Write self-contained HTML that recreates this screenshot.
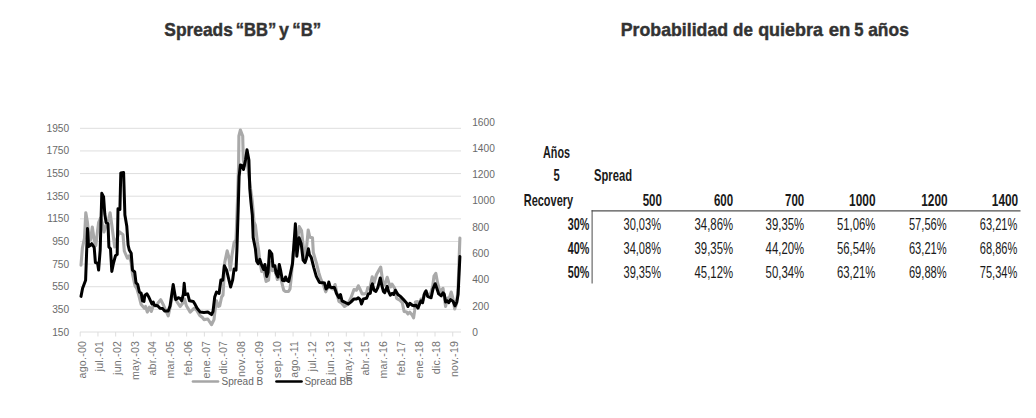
<!DOCTYPE html>
<html><head><meta charset="utf-8"><title>Spreads</title>
<style>html,body{margin:0;padding:0;background:#fff;}body{width:1036px;height:418px;position:relative;overflow:hidden;font-family:"Liberation Sans",sans-serif;}</style>
</head><body>
<svg width="1036" height="418" viewBox="0 0 1036 418" style="position:absolute;left:0;top:0;font-family:'Liberation Sans',sans-serif">
<text x="164.32" y="35.8" font-size="19" font-weight="bold" fill="#333" stroke="#333" stroke-width="0.45" textLength="68.55" lengthAdjust="spacingAndGlyphs">Spreads</text>
<text x="235.78" y="35.8" font-size="19" font-weight="bold" fill="#333" stroke="#333" stroke-width="0.45" textLength="40.45" lengthAdjust="spacingAndGlyphs">“BB”</text>
<text x="279.12" y="35.8" font-size="19" font-weight="bold" fill="#333" stroke="#333" stroke-width="0.45" textLength="9.90" lengthAdjust="spacingAndGlyphs">y</text>
<text x="292.28" y="35.8" font-size="19" font-weight="bold" fill="#333" stroke="#333" stroke-width="0.45" textLength="29.01" lengthAdjust="spacingAndGlyphs">“B”</text>
<text x="620.78" y="35.8" font-size="19" font-weight="bold" fill="#333" stroke="#333" stroke-width="0.45" textLength="107.38" lengthAdjust="spacingAndGlyphs">Probabilidad</text>
<text x="733.12" y="35.8" font-size="19" font-weight="bold" fill="#333" stroke="#333" stroke-width="0.45" textLength="19.82" lengthAdjust="spacingAndGlyphs">de</text>
<text x="758.16" y="35.8" font-size="19" font-weight="bold" fill="#333" stroke="#333" stroke-width="0.45" textLength="64.79" lengthAdjust="spacingAndGlyphs">quiebra</text>
<text x="828.66" y="35.8" font-size="19" font-weight="bold" fill="#333" stroke="#333" stroke-width="0.45" textLength="21.68" lengthAdjust="spacingAndGlyphs">en</text>
<text x="854.24" y="35.8" font-size="19" font-weight="bold" fill="#333" stroke="#333" stroke-width="0.45" textLength="9.24" lengthAdjust="spacingAndGlyphs">5</text>
<text x="868.20" y="35.8" font-size="19" font-weight="bold" fill="#333" stroke="#333" stroke-width="0.45" textLength="40.64" lengthAdjust="spacingAndGlyphs">años</text>
<line x1="80.0" x2="461.0" y1="128.30" y2="128.30" stroke="#dedede" stroke-width="1"/>
<line x1="80.0" x2="461.0" y1="150.93" y2="150.93" stroke="#dedede" stroke-width="1"/>
<line x1="80.0" x2="461.0" y1="173.57" y2="173.57" stroke="#dedede" stroke-width="1"/>
<line x1="80.0" x2="461.0" y1="196.20" y2="196.20" stroke="#dedede" stroke-width="1"/>
<line x1="80.0" x2="461.0" y1="218.83" y2="218.83" stroke="#dedede" stroke-width="1"/>
<line x1="80.0" x2="461.0" y1="241.47" y2="241.47" stroke="#dedede" stroke-width="1"/>
<line x1="80.0" x2="461.0" y1="264.10" y2="264.10" stroke="#dedede" stroke-width="1"/>
<line x1="80.0" x2="461.0" y1="286.73" y2="286.73" stroke="#dedede" stroke-width="1"/>
<line x1="80.0" x2="461.0" y1="309.37" y2="309.37" stroke="#dedede" stroke-width="1"/>
<line x1="80.0" x2="461.0" y1="332.00" y2="332.00" stroke="#dedede" stroke-width="1"/>
<line x1="80.20" x2="80.20" y1="332.00" y2="336.50" stroke="#dedede" stroke-width="1"/>
<line x1="97.94" x2="97.94" y1="332.00" y2="336.50" stroke="#dedede" stroke-width="1"/>
<line x1="115.68" x2="115.68" y1="332.00" y2="336.50" stroke="#dedede" stroke-width="1"/>
<line x1="133.42" x2="133.42" y1="332.00" y2="336.50" stroke="#dedede" stroke-width="1"/>
<line x1="151.16" x2="151.16" y1="332.00" y2="336.50" stroke="#dedede" stroke-width="1"/>
<line x1="168.90" x2="168.90" y1="332.00" y2="336.50" stroke="#dedede" stroke-width="1"/>
<line x1="186.64" x2="186.64" y1="332.00" y2="336.50" stroke="#dedede" stroke-width="1"/>
<line x1="204.38" x2="204.38" y1="332.00" y2="336.50" stroke="#dedede" stroke-width="1"/>
<line x1="222.12" x2="222.12" y1="332.00" y2="336.50" stroke="#dedede" stroke-width="1"/>
<line x1="239.86" x2="239.86" y1="332.00" y2="336.50" stroke="#dedede" stroke-width="1"/>
<line x1="257.60" x2="257.60" y1="332.00" y2="336.50" stroke="#dedede" stroke-width="1"/>
<line x1="275.34" x2="275.34" y1="332.00" y2="336.50" stroke="#dedede" stroke-width="1"/>
<line x1="293.08" x2="293.08" y1="332.00" y2="336.50" stroke="#dedede" stroke-width="1"/>
<line x1="310.82" x2="310.82" y1="332.00" y2="336.50" stroke="#dedede" stroke-width="1"/>
<line x1="328.56" x2="328.56" y1="332.00" y2="336.50" stroke="#dedede" stroke-width="1"/>
<line x1="346.30" x2="346.30" y1="332.00" y2="336.50" stroke="#dedede" stroke-width="1"/>
<line x1="364.04" x2="364.04" y1="332.00" y2="336.50" stroke="#dedede" stroke-width="1"/>
<line x1="381.78" x2="381.78" y1="332.00" y2="336.50" stroke="#dedede" stroke-width="1"/>
<line x1="399.52" x2="399.52" y1="332.00" y2="336.50" stroke="#dedede" stroke-width="1"/>
<line x1="417.26" x2="417.26" y1="332.00" y2="336.50" stroke="#dedede" stroke-width="1"/>
<line x1="435.00" x2="435.00" y1="332.00" y2="336.50" stroke="#dedede" stroke-width="1"/>
<line x1="452.74" x2="452.74" y1="332.00" y2="336.50" stroke="#dedede" stroke-width="1"/>
<text x="69.2" y="131.50" text-anchor="end" font-size="10.2" fill="#6a6a6a">1950</text>
<text x="69.2" y="154.20" text-anchor="end" font-size="10.2" fill="#6a6a6a">1750</text>
<text x="69.2" y="176.90" text-anchor="end" font-size="10.2" fill="#6a6a6a">1550</text>
<text x="69.2" y="199.60" text-anchor="end" font-size="10.2" fill="#6a6a6a">1350</text>
<text x="69.2" y="222.30" text-anchor="end" font-size="10.2" fill="#6a6a6a">1150</text>
<text x="69.2" y="245.00" text-anchor="end" font-size="10.2" fill="#6a6a6a">950</text>
<text x="69.2" y="267.70" text-anchor="end" font-size="10.2" fill="#6a6a6a">750</text>
<text x="69.2" y="290.40" text-anchor="end" font-size="10.2" fill="#6a6a6a">550</text>
<text x="69.2" y="313.10" text-anchor="end" font-size="10.2" fill="#6a6a6a">350</text>
<text x="69.2" y="335.80" text-anchor="end" font-size="10.2" fill="#6a6a6a">150</text>
<text x="472.2" y="125.50" font-size="10.2" fill="#6a6a6a">1600</text>
<text x="472.2" y="151.80" font-size="10.2" fill="#6a6a6a">1400</text>
<text x="472.2" y="178.10" font-size="10.2" fill="#6a6a6a">1200</text>
<text x="472.2" y="204.40" font-size="10.2" fill="#6a6a6a">1000</text>
<text x="472.2" y="230.70" font-size="10.2" fill="#6a6a6a">800</text>
<text x="472.2" y="257.00" font-size="10.2" fill="#6a6a6a">600</text>
<text x="472.2" y="283.30" font-size="10.2" fill="#6a6a6a">400</text>
<text x="472.2" y="309.60" font-size="10.2" fill="#6a6a6a">200</text>
<text x="472.2" y="335.90" font-size="10.2" fill="#6a6a6a">0</text>
<text transform="translate(85.50,340.8) rotate(-90)" text-anchor="end" font-size="10.6" letter-spacing="0.25" fill="#737373">ago.-00</text>
<text transform="translate(103.24,340.8) rotate(-90)" text-anchor="end" font-size="10.6" letter-spacing="0.25" fill="#737373">jul.-01</text>
<text transform="translate(120.98,340.8) rotate(-90)" text-anchor="end" font-size="10.6" letter-spacing="0.25" fill="#737373">jun.-02</text>
<text transform="translate(138.72,340.8) rotate(-90)" text-anchor="end" font-size="10.6" letter-spacing="0.25" fill="#737373">may.-03</text>
<text transform="translate(156.46,340.8) rotate(-90)" text-anchor="end" font-size="10.6" letter-spacing="0.25" fill="#737373">abr.-04</text>
<text transform="translate(174.20,340.8) rotate(-90)" text-anchor="end" font-size="10.6" letter-spacing="0.25" fill="#737373">mar.-05</text>
<text transform="translate(191.94,340.8) rotate(-90)" text-anchor="end" font-size="10.6" letter-spacing="0.25" fill="#737373">feb.-06</text>
<text transform="translate(209.68,340.8) rotate(-90)" text-anchor="end" font-size="10.6" letter-spacing="0.25" fill="#737373">ene.-07</text>
<text transform="translate(227.42,340.8) rotate(-90)" text-anchor="end" font-size="10.6" letter-spacing="0.25" fill="#737373">dic.-07</text>
<text transform="translate(245.16,340.8) rotate(-90)" text-anchor="end" font-size="10.6" letter-spacing="0.25" fill="#737373">nov.-08</text>
<text transform="translate(262.90,340.8) rotate(-90)" text-anchor="end" font-size="10.6" letter-spacing="0.25" fill="#737373">oct.-09</text>
<text transform="translate(280.64,340.8) rotate(-90)" text-anchor="end" font-size="10.6" letter-spacing="0.25" fill="#737373">sep.-10</text>
<text transform="translate(298.38,340.8) rotate(-90)" text-anchor="end" font-size="10.6" letter-spacing="0.25" fill="#737373">ago.-11</text>
<text transform="translate(316.12,340.8) rotate(-90)" text-anchor="end" font-size="10.6" letter-spacing="0.25" fill="#737373">jul.-12</text>
<text transform="translate(333.86,340.8) rotate(-90)" text-anchor="end" font-size="10.6" letter-spacing="0.25" fill="#737373">jun.-13</text>
<text transform="translate(351.60,340.8) rotate(-90)" text-anchor="end" font-size="10.6" letter-spacing="0.25" fill="#737373">may.-14</text>
<text transform="translate(369.34,340.8) rotate(-90)" text-anchor="end" font-size="10.6" letter-spacing="0.25" fill="#737373">abr.-15</text>
<text transform="translate(387.08,340.8) rotate(-90)" text-anchor="end" font-size="10.6" letter-spacing="0.25" fill="#737373">mar.-16</text>
<text transform="translate(404.82,340.8) rotate(-90)" text-anchor="end" font-size="10.6" letter-spacing="0.25" fill="#737373">feb.-17</text>
<text transform="translate(422.56,340.8) rotate(-90)" text-anchor="end" font-size="10.6" letter-spacing="0.25" fill="#737373">ene.-18</text>
<text transform="translate(440.30,340.8) rotate(-90)" text-anchor="end" font-size="10.6" letter-spacing="0.25" fill="#737373">dic.-18</text>
<text transform="translate(458.04,340.8) rotate(-90)" text-anchor="end" font-size="10.6" letter-spacing="0.25" fill="#737373">nov.-19</text>
<polyline points="81.0,265.1 82.4,248.0 84.5,238.0 85.8,212.7 87.4,222.0 89.0,238.0 90.5,240.0 92.3,227.0 94.2,240.0 95.8,245.5 97.2,234.0 98.6,222.6 100.5,218.0 102.0,222.0 104.0,232.0 106.1,225.0 108.0,222.0 110.1,212.7 111.8,225.0 114.7,247.0 116.5,240.0 119.3,231.8 123.0,234.8 124.3,251.0 127.4,258.2 129.0,256.0 131.0,262.0 132.5,274.0 135.0,285.8 137.0,289.0 139.0,296.0 141.2,304.6 144.4,308.3 145.6,306.5 147.3,312.1 149.4,307.1 151.3,311.5 153.5,305.0 156.0,306.0 158.0,303.0 160.7,299.6 163.8,305.8 166.0,311.0 168.2,315.9 170.0,308.0 172.0,298.0 174.0,293.0 176.4,300.8 180.1,306.5 182.6,303.3 184.5,299.0 186.4,305.8 190.2,312.1 194.0,308.3 196.5,310.0 199.6,315.2 202.7,317.8 204.0,319.6 207.8,319.0 211.5,324.7 214.0,319.6 215.3,308.0 216.5,300.8 218.4,306.5 219.7,305.8 221.6,297.0 223.0,295.0 223.6,285.0 224.7,262.6 227.2,250.8 228.8,257.0 230.3,270.0 232.0,255.0 234.1,242.5 236.0,240.0 237.5,200.0 238.6,165.0 238.9,136.0 240.4,130.0 242.7,136.0 243.3,160.0 244.5,166.0 247.0,160.0 250.0,185.0 252.3,201.4 254.0,222.0 255.4,225.1 257.3,241.4 258.6,250.2 260.0,262.0 261.7,271.4 263.5,269.0 266.1,281.4 268.6,280.2 270.0,262.0 272.4,270.7 274.5,268.0 277.4,279.5 279.5,272.0 281.8,282.7 283.7,290.2 285.5,291.5 288.5,291.5 290.0,288.9 291.5,275.0 293.0,255.0 295.0,238.0 297.0,245.0 299.2,226.6 301.5,230.5 303.7,250.2 305.0,258.0 306.3,250.2 306.9,244.0 308.2,230.0 309.8,237.2 312.5,237.8 313.3,252.5 316.3,262.6 318.8,272.6 320.7,278.9 323.0,284.0 325.7,291.8 327.5,288.0 329.0,284.0 331.0,288.0 333.0,289.0 335.1,284.5 337.0,294.0 338.9,301.4 341.5,303.0 344.5,306.5 347.5,304.5 350.8,298.3 354.0,289.5 356.5,290.2 358.3,285.8 360.2,289.5 362.1,293.9 364.6,293.9 366.5,293.0 367.8,287.6 369.8,288.5 372.2,276.7 374.0,283.0 376.5,274.5 380.7,267.0 382.8,282.0 384.7,285.0 387.2,277.3 389.0,283.4 390.5,287.0 392.0,284.2 394.7,288.3 396.6,298.3 399.8,300.2 402.3,302.7 404.1,311.5 406.7,312.1 407.9,314.0 409.8,312.1 412.3,315.2 413.6,317.8 414.6,310.9 415.4,302.1 417.5,301.5 419.0,305.0 421.0,299.0 423.0,300.0 425.0,292.0 427.5,294.0 430.0,295.0 432.6,287.0 434.0,276.0 435.8,273.3 437.6,283.0 440.0,292.0 443.0,288.3 445.6,306.5 447.4,298.3 449.5,297.5 451.2,292.0 452.8,298.0 454.7,309.0 456.5,304.0 458.0,290.0 459.9,238.0" fill="none" stroke="#a9a9a9" stroke-width="3.1" stroke-linejoin="round" stroke-linecap="round"/>
<polyline points="81.0,296.4 82.6,288.3 84.2,284.0 85.6,280.2 87.5,228.5 88.6,246.5 90.2,245.5 91.7,243.6 94.2,247.5 95.4,262.6 97.6,263.2 98.6,270.1 100.2,250.0 101.8,193.3 103.6,197.0 104.8,214.0 106.1,222.6 108.0,223.8 108.9,247.0 110.5,248.8 111.8,271.4 113.5,263.0 115.5,255.7 117.2,254.4 118.0,208.8 119.9,209.5 120.8,173.0 123.6,172.6 124.9,215.0 126.8,226.3 128.1,245.0 129.3,250.0 131.2,253.2 132.5,270.1 134.7,272.0 136.0,282.7 137.7,284.5 139.4,292.0 141.2,293.3 142.5,300.8 144.0,301.4 144.8,295.2 146.9,293.9 148.8,297.0 151.9,304.0 153.2,302.0 154.4,305.2 157.6,305.8 160.0,308.3 162.6,308.6 164.5,310.9 168.2,311.1 170.1,305.8 173.2,284.5 175.7,299.6 178.3,297.7 180.1,298.3 181.6,300.8 183.3,294.5 184.2,283.3 185.2,294.5 187.7,293.9 189.5,300.8 193.3,301.4 195.2,304.6 197.1,308.3 200.2,312.1 204.0,312.4 207.8,312.1 211.5,314.6 213.0,311.5 214.7,297.1 216.5,292.0 219.1,293.5 220.9,280.0 222.8,280.2 224.3,265.7 226.6,270.1 230.6,287.0 232.6,280.2 234.1,268.9 236.0,270.1 236.9,250.2 238.1,212.0 239.1,176.3 240.4,165.0 242.3,165.6 243.5,169.5 245.5,160.0 247.0,149.7 248.9,160.0 249.8,188.9 251.0,202.7 252.3,215.0 253.2,237.6 255.4,248.8 256.7,261.3 258.2,263.8 259.8,259.4 261.7,265.1 263.6,269.5 264.9,264.5 266.7,276.4 268.0,272.6 269.5,250.7 271.8,253.8 273.0,266.3 274.9,265.7 276.1,273.2 278.0,277.0 279.3,264.5 280.8,271.4 282.4,280.2 284.3,280.8 285.6,277.0 286.8,280.2 288.7,281.4 290.6,272.6 292.5,263.8 293.7,247.5 295.4,223.7 296.8,256.3 299.1,237.7 301.2,243.8 303.1,260.1 305.0,262.6 306.3,258.8 308.4,248.8 309.4,254.4 311.3,257.6 313.8,267.6 316.3,276.4 319.4,282.4 322.6,282.7 324.5,283.0 326.0,289.0 327.5,287.5 328.8,282.0 330.1,287.1 332.0,287.6 334.5,287.6 336.4,293.3 338.9,297.7 340.5,294.5 342.0,300.8 344.5,302.1 348.3,304.0 350.8,302.1 354.0,298.9 356.5,298.9 358.3,297.7 360.2,299.6 361.5,304.0 363.4,298.9 366.5,298.3 368.4,293.9 370.3,293.3 371.5,285.8 372.4,283.9 374.0,290.2 375.9,291.4 377.8,287.6 380.3,278.0 381.6,284.5 383.4,291.4 384.7,292.7 387.2,286.4 388.5,291.4 390.3,295.2 392.2,293.3 393.7,294.5 395.4,290.2 397.9,294.5 400.4,296.4 403.5,299.6 406.7,303.3 407.9,306.5 409.8,303.3 412.3,305.2 414.2,305.8 416.1,305.2 418.0,308.1 419.8,303.3 421.1,300.8 422.6,302.7 424.2,294.5 426.1,290.8 427.6,296.4 429.2,297.1 431.1,297.7 433.0,288.9 435.2,283.7 436.8,288.3 438.7,293.9 441.2,295.8 443.0,292.7 444.3,294.5 445.6,302.1 447.4,300.8 448.7,302.7 450.6,299.6 453.1,301.4 455.0,305.8 456.8,302.1 458.1,294.5 459.9,256.5" fill="none" stroke="#000" stroke-width="3.0" stroke-linejoin="round" stroke-linecap="round"/>
<line x1="193" x2="218" y1="381.5" y2="381.5" stroke="#a6a6a6" stroke-width="2.7" stroke-linecap="round"/>
<text x="221.5" y="385.2" font-size="10" fill="#666">Spread B</text>
<line x1="276.5" x2="301.5" y1="381.5" y2="381.5" stroke="#000" stroke-width="2.7" stroke-linecap="round"/>
<text x="304.4" y="385.2" font-size="10" fill="#666">Spread BB</text>
<text x="556.5" y="157.6" text-anchor="middle" font-size="16.6" font-weight="bold" fill="#1a1a1a" textLength="27" lengthAdjust="spacingAndGlyphs">Años</text>
<text x="556.7" y="181.2" text-anchor="middle" font-size="16.6" font-weight="bold" fill="#1a1a1a" textLength="6.2" lengthAdjust="spacingAndGlyphs">5</text>
<text x="594" y="181.2" text-anchor="start" font-size="16.6" font-weight="bold" fill="#1a1a1a" textLength="38" lengthAdjust="spacingAndGlyphs">Spread</text>
<text x="573.2" y="205.5" text-anchor="end" font-size="16.6" font-weight="bold" fill="#1a1a1a" textLength="49.5" lengthAdjust="spacingAndGlyphs">Recovery</text>
<text x="661.9" y="205.5" text-anchor="end" font-size="16.6" font-weight="bold" fill="#1a1a1a" textLength="19.2" lengthAdjust="spacingAndGlyphs">500</text>
<text x="733.1" y="205.5" text-anchor="end" font-size="16.6" font-weight="bold" fill="#1a1a1a" textLength="19.2" lengthAdjust="spacingAndGlyphs">600</text>
<text x="804.2" y="205.5" text-anchor="end" font-size="16.6" font-weight="bold" fill="#1a1a1a" textLength="19.2" lengthAdjust="spacingAndGlyphs">700</text>
<text x="875.5" y="205.5" text-anchor="end" font-size="16.6" font-weight="bold" fill="#1a1a1a" textLength="26.4" lengthAdjust="spacingAndGlyphs">1000</text>
<text x="947.6" y="205.5" text-anchor="end" font-size="16.6" font-weight="bold" fill="#1a1a1a" textLength="26.4" lengthAdjust="spacingAndGlyphs">1200</text>
<text x="1018.2" y="205.5" text-anchor="end" font-size="16.6" font-weight="bold" fill="#1a1a1a" textLength="26.4" lengthAdjust="spacingAndGlyphs">1400</text>
<text x="589.3" y="230.3" text-anchor="end" font-size="16.6" font-weight="bold" fill="#1a1a1a" textLength="21.5" lengthAdjust="spacingAndGlyphs">30%</text>
<text x="661.0" y="230.3" text-anchor="end" font-size="17.0" fill="#1a1a1a" textLength="37.5" lengthAdjust="spacingAndGlyphs">30,03%</text>
<text x="733.1" y="230.3" text-anchor="end" font-size="17.0" fill="#1a1a1a" textLength="38.6" lengthAdjust="spacingAndGlyphs">34,86%</text>
<text x="804.2" y="230.3" text-anchor="end" font-size="17.0" fill="#1a1a1a" textLength="38.6" lengthAdjust="spacingAndGlyphs">39,35%</text>
<text x="875.5" y="230.3" text-anchor="end" font-size="17.0" fill="#1a1a1a" textLength="38.6" lengthAdjust="spacingAndGlyphs">51,06%</text>
<text x="946.7" y="230.3" text-anchor="end" font-size="17.0" fill="#1a1a1a" textLength="37.8" lengthAdjust="spacingAndGlyphs">57,56%</text>
<text x="1017.3" y="230.3" text-anchor="end" font-size="17.0" fill="#1a1a1a" textLength="37.5" lengthAdjust="spacingAndGlyphs">63,21%</text>
<text x="589.3" y="253.9" text-anchor="end" font-size="16.6" font-weight="bold" fill="#1a1a1a" textLength="21.5" lengthAdjust="spacingAndGlyphs">40%</text>
<text x="661.0" y="253.9" text-anchor="end" font-size="17.0" fill="#1a1a1a" textLength="37.5" lengthAdjust="spacingAndGlyphs">34,08%</text>
<text x="733.1" y="253.9" text-anchor="end" font-size="17.0" fill="#1a1a1a" textLength="38.6" lengthAdjust="spacingAndGlyphs">39,35%</text>
<text x="804.2" y="253.9" text-anchor="end" font-size="17.0" fill="#1a1a1a" textLength="38.6" lengthAdjust="spacingAndGlyphs">44,20%</text>
<text x="875.5" y="253.9" text-anchor="end" font-size="17.0" fill="#1a1a1a" textLength="38.6" lengthAdjust="spacingAndGlyphs">56,54%</text>
<text x="946.7" y="253.9" text-anchor="end" font-size="17.0" fill="#1a1a1a" textLength="37.8" lengthAdjust="spacingAndGlyphs">63,21%</text>
<text x="1017.3" y="253.9" text-anchor="end" font-size="17.0" fill="#1a1a1a" textLength="37.5" lengthAdjust="spacingAndGlyphs">68,86%</text>
<text x="589.3" y="277.5" text-anchor="end" font-size="16.6" font-weight="bold" fill="#1a1a1a" textLength="21.5" lengthAdjust="spacingAndGlyphs">50%</text>
<text x="661.0" y="277.5" text-anchor="end" font-size="17.0" fill="#1a1a1a" textLength="37.5" lengthAdjust="spacingAndGlyphs">39,35%</text>
<text x="733.1" y="277.5" text-anchor="end" font-size="17.0" fill="#1a1a1a" textLength="38.6" lengthAdjust="spacingAndGlyphs">45,12%</text>
<text x="804.2" y="277.5" text-anchor="end" font-size="17.0" fill="#1a1a1a" textLength="38.6" lengthAdjust="spacingAndGlyphs">50,34%</text>
<text x="875.5" y="277.5" text-anchor="end" font-size="17.0" fill="#1a1a1a" textLength="38.6" lengthAdjust="spacingAndGlyphs">63,21%</text>
<text x="946.7" y="277.5" text-anchor="end" font-size="17.0" fill="#1a1a1a" textLength="37.8" lengthAdjust="spacingAndGlyphs">69,88%</text>
<text x="1017.3" y="277.5" text-anchor="end" font-size="17.0" fill="#1a1a1a" textLength="37.5" lengthAdjust="spacingAndGlyphs">75,34%</text>
<line x1="591.6" x2="1020.5" y1="210.8" y2="210.8" stroke="#505050" stroke-width="1.3"/>
<line x1="592.1" x2="592.1" y1="210.2" y2="283.5" stroke="#4a4a4a" stroke-width="1.0"/>
</svg>
</body></html>
